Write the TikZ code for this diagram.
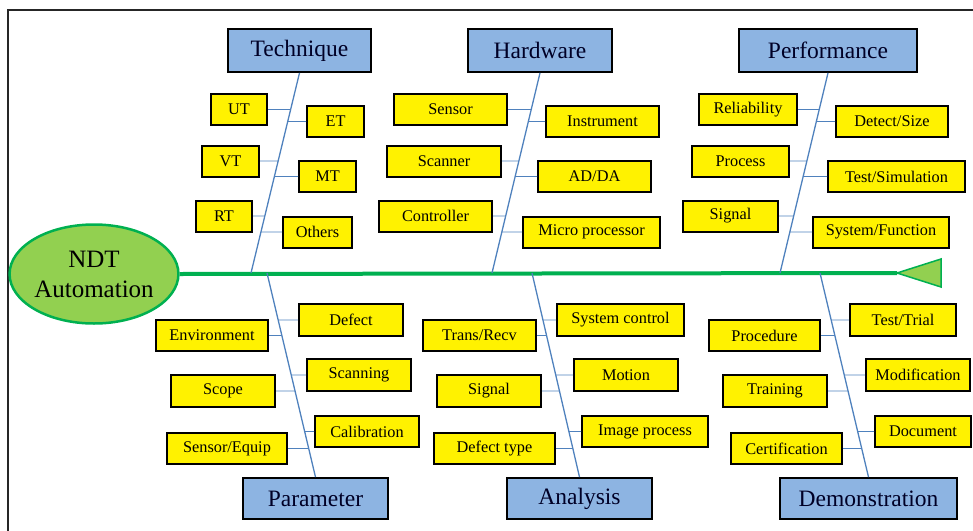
\documentclass[tikz,border=0pt]{standalone}
\usepackage{fontspec}
\setmainfont{Liberation Serif}
\usetikzlibrary{shapes.geometric}
\definecolor{spinegreen}{RGB}{0,176,80}
\definecolor{lightgreen}{RGB}{146,208,80}
\definecolor{catblue}{RGB}{141,180,226}
\definecolor{boneblue}{RGB}{79,129,189}
\newcommand{\twigL}[3]{\draw[twig] (#1.east) -- (intersection of #1.west--#1.east and #2--#3);}
\newcommand{\twigR}[3]{\draw[twig] (#1.west) -- (intersection of #1.west--#1.east and #2--#3);}
\begin{document}
\begin{tikzpicture}[x=1pt,y=-1pt,
  cat/.style={draw=black, line width=1.8pt, fill=catblue, minimum height=42pt, inner sep=0pt, text=black!85!blue, font=\fontsize{23.5}{27}\selectfont},
  item/.style={draw=black, line width=2pt, fill=yellow, minimum height=31pt, inner sep=0pt, font=\fontsize{16.3}{19}\selectfont},
  bone/.style={draw=boneblue, line width=1.3pt},
  twig/.style={draw=boneblue, line width=0.9pt},
  spine/.style={draw=spinegreen, line width=4pt},
]
\useasboundingbox (0,0) rectangle (973,530);
\draw[line width=1.5pt, black!85] (8,531) -- (8,10) -- (975,10);

% head and tail
\node[ellipse, draw=spinegreen, line width=2.5pt, fill=lightgreen, minimum width=159pt, minimum height=99pt, inner sep=0pt, align=center, font=\fontsize{25}{30}\selectfont] (ndt) at (94,274) {NDT\\Automation};
\coordinate (tip) at (897,273);
\draw[spine] (ndt.east) -- (tip);
\draw[draw=spinegreen, fill=lightgreen, line width=1.5pt] (tip) -- (941,259) -- (941,287) -- cycle;

% categories
\node[cat, minimum width=143pt, minimum height=43pt] (tech) at (299.5,50.5) {Technique};
\node[cat, minimum width=144pt, minimum height=43pt] (hard) at (540,50.5) {Hardware};
\node[cat, minimum width=178pt, minimum height=43pt] (perf) at (828,50.5) {Performance};
\node[cat, minimum width=145pt, minimum height=41pt] (param) at (315.5,498.5) {Parameter};
\node[cat, minimum width=145pt, minimum height=41pt] (anal) at (579.5,498.5) {Analysis};
\node[cat, minimum width=177pt, minimum height=41pt] (demo) at (868.5,498.5) {Demonstration};

% bones
\coordinate (tS) at (251,273);
\coordinate (hS) at (492,273);
\coordinate (fS) at (780,273);
\coordinate (pS) at (267,273);
\coordinate (aS) at (532,273);
\coordinate (dS) at (820,273);
\draw[bone] (tech.south) -- (tS);
\draw[bone] (hard.south) -- (hS);
\draw[bone] (perf.south) -- (fS);
\draw[bone] (pS) -- (param.north);
\draw[bone] (aS) -- (anal.north);
\draw[bone] (dS) -- (demo.north);

% Technique
\node[item, minimum width=56pt] (ut) at (239,109.5) {UT};
\node[item, minimum width=57pt] (et) at (335.5,121.5) {ET};
\node[item, minimum width=57pt] (vt) at (230.5,161) {VT};
\node[item, minimum width=57pt] (mt) at (327.5,176.5) {MT};
\node[item, minimum width=56pt] (rt) at (224,216) {RT};
\node[item, minimum width=69pt] (oth) at (317.5,232) {Others};
\twigL{ut}{tech.south}{tS}
\twigR{et}{tech.south}{tS}
\twigL{vt}{tech.south}{tS}
\twigR{mt}{tech.south}{tS}
\twigL{rt}{tech.south}{tS}
\twigR{oth}{tech.south}{tS}

% Hardware
\node[item, minimum width=113pt] (sens) at (450.5,109.5) {Sensor};
\node[item, minimum width=113pt] (inst) at (602.5,121.5) {Instrument};
\node[item, minimum width=114pt] (scan) at (444,161) {Scanner};
\node[item, minimum width=113pt] (adda) at (594.5,176.5) {AD/DA};
\node[item, minimum width=113pt] (ctrl) at (435.5,216) {Controller};
\node[item, minimum width=137pt] (micro) at (591.5,232) {Micro processor};
\twigL{sens}{hard.south}{hS}
\twigR{inst}{hard.south}{hS}
\twigL{scan}{hard.south}{hS}
\twigR{adda}{hard.south}{hS}
\twigL{ctrl}{hard.south}{hS}
\twigR{micro}{hard.south}{hS}

% Performance
\node[item, minimum width=98pt] (rel) at (748,109.5) {Reliability};
\node[item, minimum width=112pt] (dsz) at (892,121.5) {Detect/Size};
\node[item, minimum width=97pt] (proc) at (740.5,161) {Process};
\node[item, minimum width=137pt] (tsim) at (896.5,176.5) {Test/Simulation};
\node[item, minimum width=95pt] (sig1) at (730.5,216) {Signal};
\node[item, minimum width=136pt] (sysf) at (881,232) {System/Function};
\twigL{rel}{perf.south}{fS}
\twigR{dsz}{perf.south}{fS}
\twigL{proc}{perf.south}{fS}
\twigR{tsim}{perf.south}{fS}
\twigL{sig1}{perf.south}{fS}
\twigR{sysf}{perf.south}{fS}

% Parameter
\node[item, minimum width=104pt, minimum height=32pt] (defe) at (351,320) {Defect};
\node[item, minimum width=112pt] (env) at (212,335.5) {Environment};
\node[item, minimum width=104pt, minimum height=32pt] (scng) at (359,375) {Scanning};
\node[item, minimum width=104pt, minimum height=32pt] (scop) at (223,391) {Scope};
\node[item, minimum width=104pt] (cali) at (367,431.5) {Calibration};
\node[item, minimum width=120pt] (seq) at (227,448.5) {Sensor/Equip};
\twigR{defe}{pS}{param.north}
\twigL{env}{pS}{param.north}
\twigR{scng}{pS}{param.north}
\twigL{scop}{pS}{param.north}
\twigR{cali}{pS}{param.north}
\twigL{seq}{pS}{param.north}

% Analysis
\node[item, minimum width=127pt, minimum height=32pt] (sysc) at (620.5,320) {System control};
\node[item, minimum width=113pt] (trv) at (479.5,335.5) {Trans/Recv};
\node[item, minimum width=104pt, minimum height=32pt] (moti) at (626,375) {Motion};
\node[item, minimum width=104pt, minimum height=32pt] (sig2) at (489,391) {Signal};
\node[item, minimum width=126pt] (imgp) at (645,431.5) {Image process};
\node[item, minimum width=121pt] (dtyp) at (494.5,448.5) {Defect type};
\twigR{sysc}{aS}{anal.north}
\twigL{trv}{aS}{anal.north}
\twigR{moti}{aS}{anal.north}
\twigL{sig2}{aS}{anal.north}
\twigR{imgp}{aS}{anal.north}
\twigL{dtyp}{aS}{anal.north}

% Demonstration
\node[item, minimum width=106pt, minimum height=32pt] (ttri) at (903,320) {Test/Trial};
\node[item, minimum width=111pt] (pced) at (764.5,335.5) {Procedure};
\node[item, minimum width=104pt, minimum height=32pt] (modi) at (918,375) {Modification};
\node[item, minimum width=104pt, minimum height=32pt] (trai) at (775,391) {Training};
\node[item, minimum width=96pt] (docu) at (923,431.5) {Document};
\node[item, minimum width=111pt] (cert) at (786.5,448.5) {Certification};
\twigR{ttri}{dS}{demo.north}
\twigL{pced}{dS}{demo.north}
\twigR{modi}{dS}{demo.north}
\twigL{trai}{dS}{demo.north}
\twigR{docu}{dS}{demo.north}
\twigL{cert}{dS}{demo.north}
\end{tikzpicture}
\end{document}
